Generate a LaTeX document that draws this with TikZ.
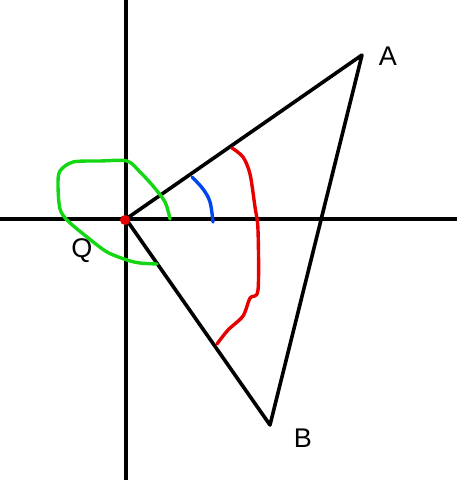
\documentclass[tikz,border=0pt]{standalone}
\usepackage{fontspec}
\setmainfont{Liberation Sans}
\definecolor{hgreen}{RGB}{20,215,20}
\definecolor{hblue}{RGB}{0,70,240}
\definecolor{hred}{RGB}{230,0,0}
\begin{document}
\begin{tikzpicture}[x=1pt,y=-1pt,
  ax/.style={line width=4pt},
  seg/.style={line width=3.6pt,line join=round,line cap=round},
  hand/.style={line width=3.4pt,line join=round,line cap=round},
  lbl/.style={font=\fontsize{27}{27}\selectfont,inner sep=0pt}]
\useasboundingbox (0,0) rectangle (457,480);
\coordinate (L) at (0,219);
\coordinate (R) at (457,219);
\coordinate (T) at (126,0);
\coordinate (D) at (126,480);
\coordinate (Q) at (126,219);
\coordinate (A) at (362,55);
\coordinate (B) at (270,425);
\draw[ax] (L) -- (R);
\draw[ax] (T) -- (D);
\draw[seg] (Q) -- (A) -- (B) -- cycle;
\fill[hred] (125,220) circle (5);
\draw[hand,hgreen] plot[smooth,tension=0.5] coordinates {(170,219) (165,202) (153,186) (140,172) (127,161) (100,161) (73,162) (60,171) (58,185) (60,209) (68,221) (87,237) (107,252) (127,260) (140,263) (157,264)};
\draw[hand,hblue] plot[smooth,tension=0.6] coordinates {(192,177) (203,189) (210,202) (213,222)};
\draw[hand,hred] plot[smooth,tension=0.5] coordinates {(232,148) (243,157) (250,174) (255,207) (258,230) (258,290) (250,298) (243,316) (228,330) (217,344)};
\node[lbl] (la) at (388,56) {A};
\node[lbl] (lb) at (303,438) {B};
\node[lbl] (lq) at (82,251) {Q};
\end{tikzpicture}
\end{document}
